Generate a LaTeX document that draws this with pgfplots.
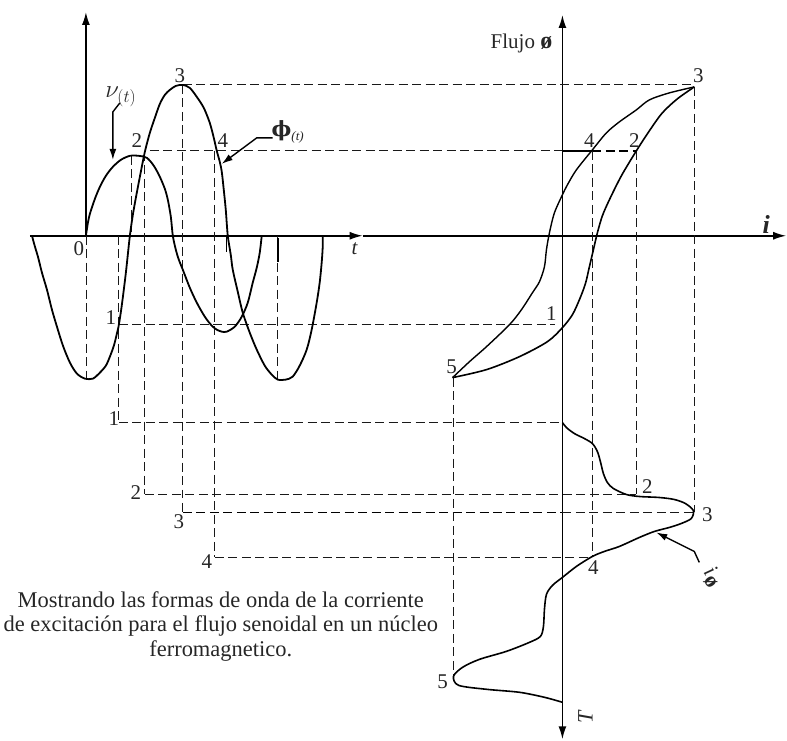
\documentclass[border=0pt]{standalone}
\usepackage{fontspec}
\setmainfont{Liberation Serif}
\newfontfamily\dvs{DejaVu Serif}
\usepackage{amsmath}
\usepackage{pgfplots}
\pgfplotsset{compat=1.18}
\usetikzlibrary{arrows.meta}
\tikzset{
  dsh/.style={black!90, line width=1.0pt, dash pattern=on 9pt off 4.5pt},
  crv/.style={black, line width=1.8pt, smooth, tension=0.5},
  ax/.style={black, line width=1.6pt},
  lbl/.style={font=\fontsize{21}{23}\selectfont, text=black!85, inner sep=0pt},
}
\begin{document}
\begin{tikzpicture}
\begin{axis}[width=787pt,height=741pt,scale only axis,
  xmin=0,xmax=787,ymin=0,ymax=741,y dir=reverse,hide axis,clip=false]
\addplot[draw=none] coordinates {(0,0) (787,741)};
% ---- axes
\addplot[ax,-{Latex[length=13pt,width=8pt]}] coordinates {(86,236) (86,12)};
\addplot[ax,-{Latex[length=13pt,width=8pt]}] coordinates {(30,236) (363,236)};
\addplot[ax,-{Latex[length=13pt,width=8pt]}] coordinates {(363,236) (787,236)};
\addplot[ax,{Latex[length=13pt,width=8pt]}-{Latex[length=13pt,width=8pt]}] coordinates {(563,15) (563,740)};
% ---- dashed guide lines (left, vertical)
\addplot[dsh] coordinates {(87,236) (87,380)};
\addplot[dsh] coordinates {(119,236) (119,423)};
\addplot[dsh] coordinates {(132,156) (132,236)};
\addplot[dsh] coordinates {(145,152) (145,495)};
\addplot[dsh] coordinates {(183,85) (183,513)};
\addplot[dsh] coordinates {(215,151) (215,558)};
\addplot[dsh] coordinates {(278,236) (278,380)};
\addplot[black, line width=1.8pt] coordinates {(278,238) (278,262)};
\addplot[black, line width=1.4pt] coordinates {(227,236) (227,252)};
% ---- dashed guide lines (horizontal)
\addplot[dsh] coordinates {(183,85) (695,85)};
\addplot[dsh] coordinates {(150,151) (563,151)};
\addplot[black, line width=1.9pt] coordinates {(563,151) (593,151)};
\addplot[black, line width=1.9pt, dash pattern=on 9pt off 4.5pt] coordinates {(593,151) (637,151)};
\addplot[dsh] coordinates {(119,325) (556,325)};
\addplot[dsh] coordinates {(119,423) (563,423)};
\addplot[dsh] coordinates {(145,495) (637,495)};
\addplot[black, line width=1.9pt, dash pattern=on 9pt off 4.5pt] coordinates {(183,513) (563,513)};
\addplot[dsh] coordinates {(563,513) (695,513)};
\addplot[dsh] coordinates {(215,558) (593,558)};
% ---- dashed guide lines (right, vertical)
\addplot[dsh] coordinates {(593,151) (593,558)};
\addplot[dsh] coordinates {(637,151) (637,495)};
\addplot[dsh] coordinates {(695,87) (695,513)};
\addplot[dsh] coordinates {(454,378) (454,678)};
% ---- flux phi(t)
\addplot[crv] coordinates {
(32,236) (35,247) (38,257) (42,273) (47,290) (52,310) (57,327) (63,346) (70,363)
(77,374) (85,379) (93,379) (100,373) (106,366) (110,357) (114,346) (117,334)
(119,325) (122,305) (126,273) (130,236) (133,215) (136,198) (140,177) (145,152)
(150,133) (155,118) (160,104) (165,95) (170,90) (176,86) (183,85) (190,88)
(197,97) (204,108) (210,123) (214,138) (217,151) (220,162) (222,172) (224,190)
(226,210) (228,236) (231,255) (233,270) (238,292) (243,313) (250,333) (257,350)
(265,366) (272,375) (278,380) (286,380) (293,377) (300,366) (307,350) (312,330)
(317,303) (320,283) (322,263) (323,248) (323,236)};
% ---- voltage v(t)
\addplot[crv] coordinates {
(86,236) (88,223) (90,214) (95,199) (100,187) (106,176) (113,167) (121,160)
(130,156) (139,156) (147,158) (154,166) (160,177) (165,189) (168,200) (171,217)
(173,236) (176,250) (179,260) (183,270) (190,288) (197,303) (205,317) (212,326)
(217,330) (222,332) (227,332) (235,327) (242,317) (248,303) (253,283) (257,268)
(260,253) (262,236)};
% ---- hysteresis loop: descending branch 3 -> 4 -> 5
\addplot[crv, line width=1.4pt] coordinates {
(695,87) (670,93) (650,100) (637,110) (620,122) (607,133) (593,150) (577,170)
(568,185) (563,195) (555,213) (550,233) (547,250) (545,267) (540,282) (533,293)
(522,310) (510,325) (487,347) (470,362) (453,378)};
% ---- hysteresis loop: ascending branch 5 -> 1 -> 2 -> 3
\addplot[crv, line width=1.6pt] coordinates {
(453,378) (487,370) (520,357) (548,342) (563,328) (573,315) (580,300) (586,284)
(590,267) (594,250) (598,233) (603,216) (610,200) (622,176) (637,151) (650,131)
(663,113) (678,99) (695,87)};
% ---- exciting current i_phi(t)
\addplot[crv, line width=1.6pt] coordinates {
(563,423) (567,428) (575,434) (585,439) (593,444) (598,452) (601,462) (604,474)
(608,483) (614,489) (627,495) (640,497) (660,498) (675,500) (686,504) (694,511)
(692,519) (682,524) (670,528) (655,532) (640,538) (620,547) (605,552) (593,557)
(577,567) (563,578) (553,586) (547,595) (545,610) (544,627) (541,637) (530,643)
(507,652) (480,660) (463,668) (454,677) (459,686) (487,690) (520,693) (545,698)
(563,703)};
% ---- pointer arrows
\addplot[black, line width=1.4pt, -{Latex[length=11pt,width=7pt]}] coordinates {(120,103) (113,112) (113,160)};
\addplot[black, line width=1.4pt, -{Latex[length=11pt,width=7pt]}] coordinates {(273,138) (257,138) (222,164)};
\addplot[black, line width=1.4pt, -{Latex[length=11pt,width=7pt]}] coordinates {(700,563) (695,552) (657,533)};
% ---- labels (left)
\node[lbl] at (axis cs:79,249) {0};
\node[lbl] at (axis cs:111,318) {1};
\node[lbl] at (axis cs:137,141) {2};
\node[lbl] at (axis cs:180,76) {3};
\node[lbl] at (axis cs:223,141) {4};
\node[lbl] at (axis cs:114,419) {1};
\node[lbl] at (axis cs:136,493) {2};
\node[lbl] at (axis cs:179,522) {3};
\node[lbl] at (axis cs:207,562) {4};
% ---- labels (right)
\node[lbl] at (axis cs:699,76) {3};
\node[lbl] at (axis cs:590,141) {4};
\node[lbl] at (axis cs:635,141) {2};
\node[lbl] at (axis cs:552,314) {1};
\node[lbl] at (axis cs:452,367) {5};
\node[lbl] at (axis cs:648,487) {2};
\node[lbl] at (axis cs:708,515) {3};
\node[lbl] at (axis cs:594,568) {4};
\node[lbl] at (axis cs:443,682) {5};
% ---- axis names and curve names
\node[lbl] at (axis cs:355,249) {\itshape t};
\node[lbl, font=\fontsize{26}{28}\selectfont\bfseries\itshape] at (axis cs:767,225) {i};
\node[lbl, font=\fontsize{21}{23}\selectfont] at (axis cs:522,44) {Flujo {\fontsize{24}{26}\selectfont\bfseries ø}};
\node[lbl, font=\fontsize{22}{24}\selectfont\itshape, rotate=90] at (axis cs:586,718) {T};
\node[lbl, font=\fontsize{26}{28}\selectfont] at (axis cs:121,97) {$\nu_{(t)}$};
\node[lbl, font=\fontsize{21}{23}\selectfont] at (axis cs:288,132) {{\dvs\bfseries ϕ}\raisebox{-4pt}{\fontsize{13}{14}\selectfont\itshape (t)}};
\node[lbl, font=\fontsize{22}{24}\selectfont, rotate=-55] at (axis cs:713,578) {\itshape i\raisebox{-5pt}{\upshape\bfseries ø}};
% ---- caption
\node[lbl, font=\fontsize{22.5}{24.5}\selectfont, align=center] at (axis cs:221,627)
 {Mostrando las formas de onda de la corriente\\
  de excitación para el flujo senoidal en un núcleo\\
  ferromagnetico.};
\end{axis}
\end{tikzpicture}
\end{document}
